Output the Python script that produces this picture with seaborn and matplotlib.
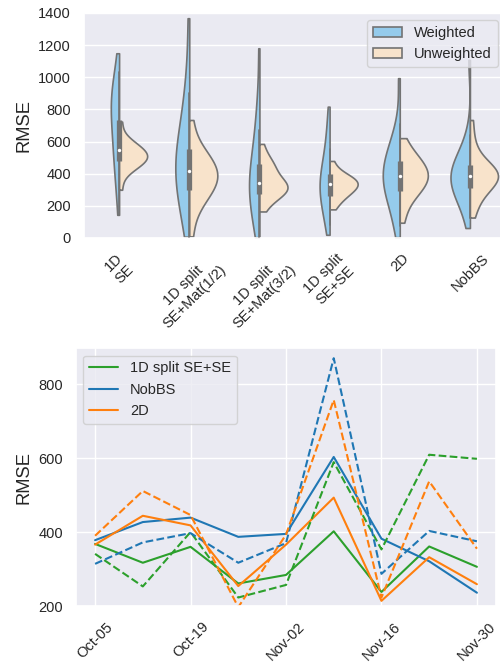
import numpy as np
import pandas as pd
import matplotlib
matplotlib.use("Agg")
import matplotlib.pyplot as plt
import matplotlib.dates as mdates
import seaborn as sns

# ---------------- data: violin panel (RMSE samples read from the shapes) -------------
models = ["1D\nSE", "1D split\nSE+Mat(1/2)", "1D split\nSE+Mat(3/2)",
          "1D split\nSE+SE", "2D", "NobBS"]
kinds = ["Weighted", "Unweighted"]

w_1d_se = [144, 290, 370, 430, 485, 535, 585, 630, 675, 715, 755, 790, 825, 855,
           880, 905, 935, 970, 1030, 1149]
u_1d_se = [300, 395, 427, 445, 458, 470, 480, 489, 497, 506, 514, 523, 532, 542,
           554, 567, 580, 600, 625, 724]
w_mat12 = [8, 100, 170, 230, 280, 320, 355, 390, 425, 455, 490, 525, 565, 610,
           660, 720, 800, 900, 1050, 1367]
u_mat12 = [10, 146, 212, 249, 277, 301, 322, 341, 359, 376, 394, 411, 429, 448,
           469, 490, 515, 548, 605, 734]
w_mat32 = [5, 60, 120, 170, 210, 245, 275, 300, 325, 350, 380, 410, 445, 490,
           540, 600, 670, 760, 880, 1180]
u_mat32 = [165, 220, 250, 268, 282, 293, 302, 310, 318, 326, 335, 345, 360, 390,
           420, 440, 455, 475, 510, 585]
w_sese = [20, 80, 140, 180, 210, 240, 265, 290, 312, 332, 352, 375, 400, 430,
          465, 505, 555, 620, 700, 817]
u_sese = [178, 215, 240, 258, 272, 285, 296, 306, 316, 325, 334, 342, 350, 357,
          365, 374, 385, 400, 425, 479]
w_2d = [5, 74, 162, 211, 248, 279, 306, 331, 355, 378, 402, 425, 449, 474,
        501, 532, 569, 618, 706, 994]
u_2d = [95, 184, 240, 271, 294, 314, 332, 348, 363, 378, 392, 407, 422, 438,
        456, 475, 495, 520, 555, 621]
w_nobbs = [62, 160, 221, 255, 281, 302, 322, 339, 356, 372, 388, 404, 421, 438,
           458, 479, 505, 545, 640, 1108]
u_nobbs = [127, 200, 250, 285, 310, 330, 348, 362, 374, 384, 393, 401, 410, 420,
           432, 450, 480, 530, 610, 734]

# ---------------- data: time series panel ----------------
dates = ["2020-10-05", "2020-10-12", "2020-10-19", "2020-10-26", "2020-11-02",
         "2020-11-09", "2020-11-16", "2020-11-23", "2020-11-30"]
sese_solid = [369, 318, 361, 262, 285, 403, 239, 362, 307]
sese_dashed = [342, 254, 401, 224, 258, 590, 354, 610, 599]
nobbs_solid = [379, 428, 440, 388, 396, 604, 383, 322, 237]
nobbs_dashed = [315, 373, 398, 318, 371, 871, 288, 404, 376]
d2_solid = [367, 445, 419, 255, 367, 494, 215, 333, 260]
d2_dashed = [391, 512, 447, 198, 394, 758, 224, 538, 356]
series_names = ["1D split SE+SE", "NobBS", "2D"]

# ---------------- style ----------------
sns.set_theme(style="darkgrid")
plt.rcParams["font.family"] = ["Liberation Sans", "DejaVu Sans"]
plt.rcParams["xtick.labelsize"] = 10.5
plt.rcParams["ytick.labelsize"] = 10.5
plt.rcParams["legend.fontsize"] = 10.5
plt.rcParams["axes.labelsize"] = 13.2

fig = plt.figure(figsize=(5.0, 6.62), dpi=100)
ax1 = fig.add_axes([0.168, 0.6405, 0.842, 0.340])
ax2 = fig.add_axes([0.152, 0.084, 0.840, 0.390])

# ---------------- top: split violins ----------------
w_lists = [w_1d_se, w_mat12, w_mat32, w_sese, w_2d, w_nobbs]
u_lists = [u_1d_se, u_mat12, u_mat32, u_sese, u_2d, u_nobbs]
rows = []
for m, wl, ul in zip(models, w_lists, u_lists):
    rows += [(m, "Weighted", v) for v in wl]
    rows += [(m, "Unweighted", v) for v in ul]
df = pd.DataFrame(rows, columns=["model", "kind", "RMSE"])

gray = "#737373"
# one call per model so that the two halves are scaled together within each model
for i, m in enumerate(models):
    sub = df[df["model"] == m]
    sns.violinplot(data=sub, x="model", y="RMSE", hue="kind", order=models,
                   hue_order=kinds, split=True, inner=None, cut=0,
                   density_norm="area", common_norm=True,
                   palette=["lightskyblue", "bisque"], saturation=0.75,
                   linecolor=gray, linewidth=1.2, legend=(i == 0), ax=ax1)

# combined mini box plot for each model (as drawn by classic split violins)
for i, m in enumerate(models):
    vals = df.loc[df["model"] == m, "RMSE"].to_numpy(dtype=float)
    q1, q2, q3 = np.percentile(vals, [25, 50, 75])
    lim = 1.5 * (q3 - q1)
    h1 = vals[vals >= q1 - lim].min()
    h2 = vals[vals <= q3 + lim].max()
    ax1.plot([i, i], [h1, h2], color=gray, lw=1.2, zorder=3)
    ax1.plot([i, i], [q1, q3], color=gray, lw=3.8, solid_capstyle="butt", zorder=3)
    ax1.scatter([i], [q2], color="white", s=6, linewidths=0, zorder=4)

ax1.set_xlim(-0.5, len(models) - 0.5)
ax1.set_ylim(0, 1400)
ax1.set_yticks(np.arange(0, 1401, 200))
ax1.set_xlabel("")
ax1.set_ylabel("RMSE")
ax1.set_xticks(range(len(models)))
ax1.set_xticklabels(models, rotation=45, ha="center")
ax1.xaxis.grid(False)
sns.move_legend(ax1, "upper right", title=None)

# ---------------- bottom: time series ----------------
dt = pd.to_datetime(dates)
colors = ["tab:green", "tab:blue", "tab:orange"]
solids = [sese_solid, nobbs_solid, d2_solid]
dashes = [sese_dashed, nobbs_dashed, d2_dashed]
for name, c, s in zip(series_names, colors, solids):
    sns.lineplot(x=dt, y=s, color=c, label=name, ax=ax2)
for c, s in zip(colors, dashes):
    sns.lineplot(x=dt, y=s, color=c, linestyle="--", ax=ax2)

ax2.set_ylim(200, 898)
ax2.set_yticks([200, 400, 600, 800])
ax2.set_xticks(dt[::2])
ax2.xaxis.set_major_formatter(mdates.DateFormatter("%b-%d"))
for lab in ax2.get_xticklabels():
    lab.set_rotation(45)
    lab.set_ha("center")
ax2.set_ylabel("RMSE")
ax2.set_xlabel("")
ax2.legend(loc="upper left")

fig.savefig("out.png", dpi=100)
